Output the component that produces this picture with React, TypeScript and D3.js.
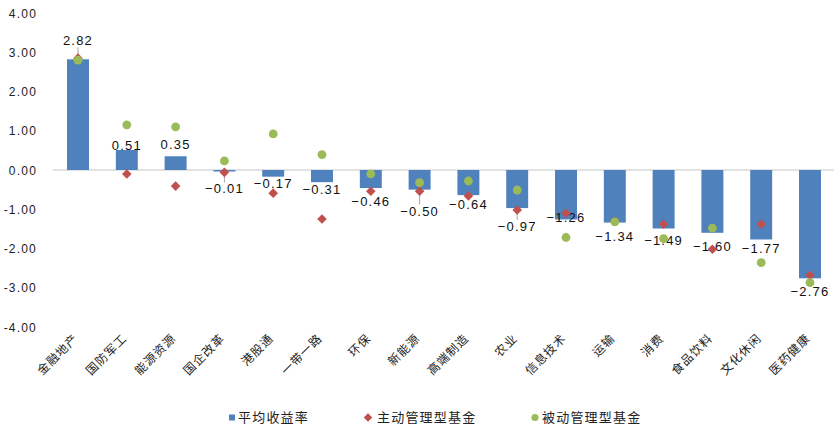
import React from "react";
import * as d3 from "d3";

const categories = ["金融地产","国防军工","能源资源","国企改革","港股通","一带一路","环保","新能源","高端制造","农业","信息技术","运输","消费","食品饮料","文化休闲","医药健康"];
const avgReturn = [2.82,0.51,0.35,-0.01,-0.17,-0.31,-0.46,-0.50,-0.64,-0.97,-1.26,-1.34,-1.49,-1.60,-1.77,-2.76];
const activeFund = [2.85,-0.10,-0.41,-0.06,-0.59,-1.25,-0.54,-0.54,-0.66,-1.02,-1.10,-1.30,-1.38,-2.02,-1.38,-2.68];
const passiveFund = [2.80,1.15,1.10,0.23,0.92,0.39,-0.10,-0.32,-0.28,-0.51,-1.72,-1.32,-1.75,-1.48,-2.36,-2.87];
const yTicks = [4,3,2,1,0,-1,-2,-3,-4];
const labelNudge = [-8,6,-1,6,-6,-5,1,9,-3,6,-14.5,1,0,1,-3.5,1];

const W = 837, H = 440;
const BLUE = "#4f81bd", RED = "#c0504d", GREEN = "#9bbb59";
const NUM_FONT = "'Liberation Sans', Arial, sans-serif";
const CJK_FONT = "'Noto Sans CJK SC', sans-serif";

export default function App() {
  const x = d3.scaleBand<string>().domain(categories).range([53.6, 834.4]).paddingInner(0.55).paddingOuter(0.275);
  const y = d3.scaleLinear().domain([-4, 4]).range([327, 13]);
  const bw = x.bandwidth();
  const cx = (c: string) => (x(c) as number) + bw / 2;

  return (
    <svg width={W} height={H} style={{ position: "absolute", left: 0, top: 0, background: "#fff" }}>
      {/* y ticks */}
      {yTicks.map((t) => (
        <text key={t} x={37} y={y(t) + 4.5} textAnchor="end" fontFamily={NUM_FONT} fontSize={12} letterSpacing={1.2} fill="#222">
          {d3.format(".2f")(t).replace("−", "-")}
        </text>
      ))}
      {/* zero line */}
      <line x1={53} x2={834} y1={y(0)} y2={y(0)} stroke="#d9d9d9" strokeWidth={1.3} />
      {/* bars */}
      {categories.map((c, i) => {
        const v = avgReturn[i];
        const y0 = y(0), y1 = y(v);
        return <rect key={c} x={x(c)} y={Math.min(y0, y1)} width={bw} height={Math.max(1.5, Math.abs(y1 - y0))} fill={BLUE} />;
      })}
      {/* leader lines and value labels */}
      {categories.map((c, i) => {
        const v = avgReturn[i];
        const end = y(v);
        const base = v >= 0 ? end - 6 + labelNudge[i] : end + 17 + labelNudge[i];
        const top = base - 10, bottom = base + 1;
        let leader = null;
        if (v >= 0 && end - bottom > 8) leader = <line x1={cx(c)} x2={cx(c)} y1={bottom + 1} y2={end} stroke="#a6a6a6" />;
        if (v < 0 && top - end > 10) leader = <line x1={cx(c)} x2={cx(c)} y1={end + 1} y2={top - 1} stroke="#a6a6a6" />;
        return (
          <g key={c}>
            {leader}
            <text x={cx(c)} y={base} textAnchor="middle" fontFamily={NUM_FONT} fontSize={13} letterSpacing={1.2} fill="#111">
              {d3.format(".2f")(v)}
            </text>
          </g>
        );
      })}
      {/* active fund diamonds */}
      {categories.map((c, i) => (
        <path key={c} d={d3.symbol(d3.symbolSquare, 46)() as string} transform={`translate(${cx(c)},${y(activeFund[i])}) rotate(45)`} fill={RED} />
      ))}
      {/* passive fund circles */}
      {categories.map((c, i) => (
        <circle key={c} cx={cx(c)} cy={y(passiveFund[i])} r={4.4} fill={GREEN} />
      ))}
      {/* category labels */}
      {categories.map((c) => (
        <text key={c} transform={`translate(${cx(c) + 1},${339}) rotate(-45)`} textAnchor="end" fontFamily={CJK_FONT} fontSize={12} letterSpacing={1} fill="#222">
          {c}
        </text>
      ))}
      {/* legend */}
      <g fontFamily={CJK_FONT} fontSize={13} fill="#222">
        <rect x={229} y={414.5} width={6} height={6} fill={BLUE} />
        <text x={238} y={422} letterSpacing={1.2}>平均收益率</text>
        <path d={d3.symbol(d3.symbolSquare, 36)() as string} transform={`translate(${368},${417.5}) rotate(45)`} fill={RED} />
        <text x={377} y={422} letterSpacing={1.2}>主动管理型基金</text>
        <circle cx={535} cy={417.5} r={3.6} fill={GREEN} />
        <text x={542} y={422} letterSpacing={1.2}>被动管理型基金</text>
      </g>
    </svg>
  );
}
